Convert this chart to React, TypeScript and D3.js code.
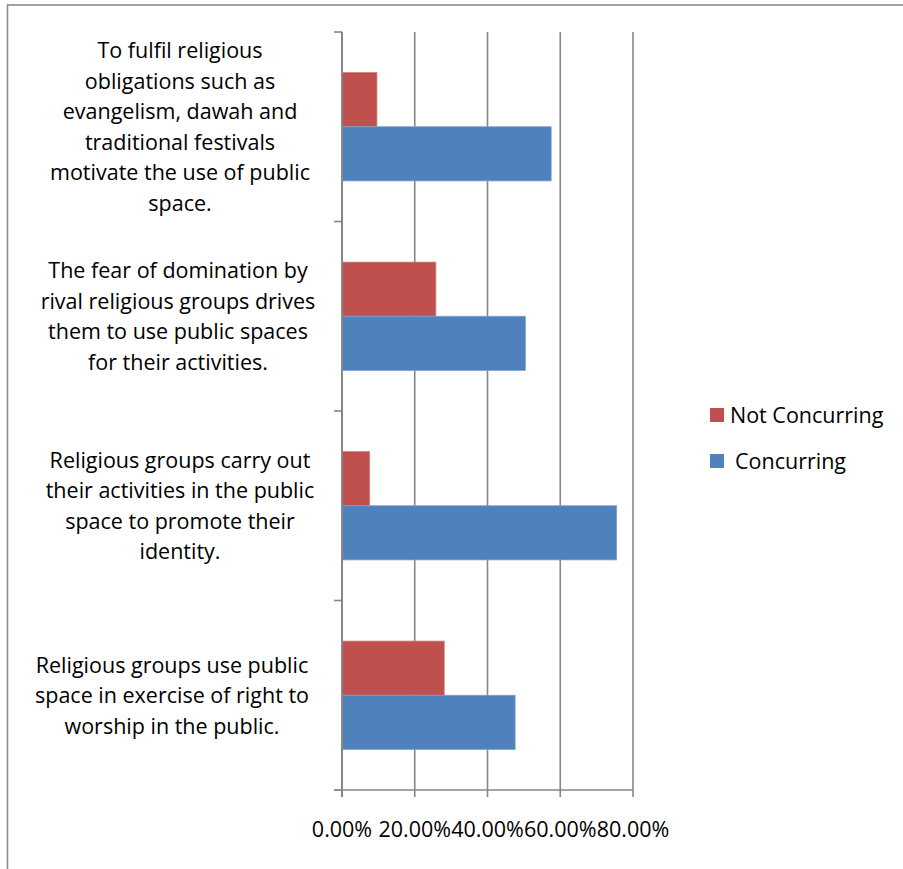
import React from "react";
import * as d3 from "d3";

const categories: string[][] = [
  ["To fulfil religious", "obligations such as", "evangelism, dawah and", "traditional festivals", "motivate the use of public", "space."],
  ["The fear of domination by", "rival religious groups drives", "them to use public spaces", "for their activities."],
  ["Religious groups carry out", "their activities in the public", "space to promote their", "identity."],
  ["Religious groups use public", "space in exercise of right to", "worship in the public."],
];
const seriesNames = ["Not Concurring", "Concurring"];
const notConcurring = [9.6, 25.8, 7.6, 28.1];
const concurring = [57.5, 50.4, 75.5, 47.6];
const xTicks = [0, 20, 40, 60, 80];
const colors = ["#C0504D", "#4F81BD"];
const strokeColors = ["#d07a78", "#7aa0cf"];

const W = 903;
const H = 869;
const FONT = "'Open Sans', 'Noto Sans', sans-serif";
const FS = 21.5;
const LH = 30.5;
const labelDx = [180, 178, 180, 172];

export default function App() {
  const plot = { left: 342, right: 633, top: 32, bottom: 790 };
  const x = d3.scaleLinear().domain([0, 80]).range([plot.left, plot.right]);
  const keys = categories.map((_, i) => String(i));
  const y = d3.scaleBand<string>().domain(keys).range([plot.top, plot.bottom]).paddingInner(0).paddingOuter(0);
  const inner = d3.scaleBand<string>().domain(seriesNames).range([0, y.bandwidth()]).paddingInner(0).paddingOuter(0.75);
  const series = [notConcurring, concurring];
  const grid = "#878787";
  const boundaries = keys.map((k) => y(k) as number).concat([plot.bottom]);

  return (
    <svg width={W} height={H} style={{ position: "absolute", left: 0, top: 0, background: "#fff" }} fontFamily={FONT}>
      <rect x={0} y={0} width={W} height={H} fill="#fff" />
      <rect x={7.5} y={5} width={2000} height={2000} fill="none" stroke="#8a8a8a" strokeWidth={1.6} />
      {/* gridlines */}
      {xTicks.map((t) => (
        <line key={"g" + t} x1={x(t)} x2={x(t)} y1={plot.top} y2={plot.bottom + 7} stroke={grid} strokeWidth={t === 0 ? 2 : 1.6} />
      ))}
      {/* bars */}
      {keys.map((k, i) =>
        seriesNames.map((s, j) => (
          <rect
            key={k + s}
            x={x(0)}
            y={(y(k) as number) + (inner(s) as number)}
            width={x(series[j][i]) - x(0)}
            height={inner.bandwidth()}
            fill={colors[j]}
            stroke={strokeColors[j]}
            strokeWidth={0.8}
          />
        ))
      )}
      {/* y axis */}
      <line x1={plot.left} x2={plot.left} y1={plot.top} y2={plot.bottom} stroke={grid} strokeWidth={2} />
      {boundaries.map((b, i) => (
        <line key={"yt" + i} x1={plot.left - 8} x2={plot.left} y1={b} y2={b} stroke={grid} strokeWidth={1.6} />
      ))}
      {/* x axis */}
      <line x1={plot.left - 8} x2={plot.right} y1={plot.bottom} y2={plot.bottom} stroke={grid} strokeWidth={1.6} />
      {xTicks.map((t) => (
        <text key={"xl" + t} x={x(t)} y={837} textAnchor="middle" fontSize={FS} fill="#000">
          {t.toFixed(2) + "%"}
        </text>
      ))}
      {/* category labels */}
      {categories.map((lines, i) => {
        const cy = (y(keys[i]) as number) + y.bandwidth() / 2;
        const first = cy - ((lines.length - 1) / 2) * LH;
        return (
          <text key={"c" + i} textAnchor="middle" fontSize={FS} fill="#000">
            {lines.map((ln, li) => (
              <tspan key={li} x={labelDx[i]} y={first + li * LH + 7.8}>
                {ln}
              </tspan>
            ))}
          </text>
        );
      })}
      {/* legend */}
      {seriesNames.map((s, j) => (
        <g key={"lg" + s} transform={`translate(710, ${408 + j * 46})`}>
          <rect x={0} y={0} width={14} height={14} fill={colors[j]} />
          <text x={j === 0 ? 20 : 25} y={14.5} fontSize={FS} fill="#000">
            {s}
          </text>
        </g>
      ))}
    </svg>
  );
}
